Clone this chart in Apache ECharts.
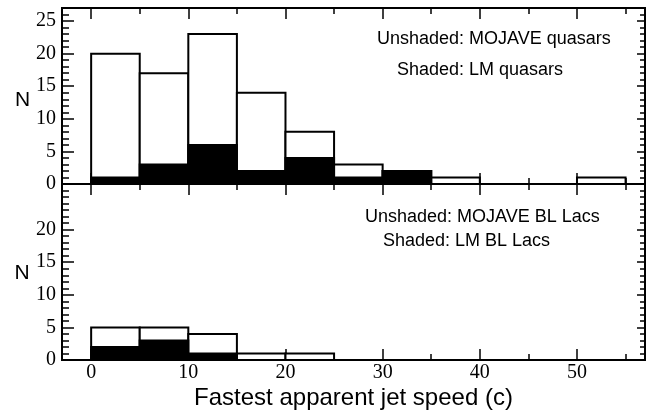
<!DOCTYPE html>
<html>
<head>
<meta charset="utf-8">
<script src="https://cdn.jsdelivr.net/npm/echarts@6/dist/echarts.min.js"></script>
<style>
  html, body { margin: 0; padding: 0; background: #fff; }
  #chart { width: 662px; height: 414px; }
</style>
</head>
<body>
<div id="chart"></div>
<script>
// histogram bins (c), width 5
const binStarts = [0, 5, 10, 15, 20, 25, 30, 35, 40, 45, 50];
const binWidth = 5;

// top panel: quasars
const quasarMojave = [20, 17, 23, 14, 8, 3, 2, 1, 0, 0, 1];
const quasarLM = [1, 3, 6, 2, 4, 1, 2, 0, 0, 0, 0];

// bottom panel: BL Lacs
const bllacMojave = [5, 5, 4, 1, 1, 0, 0, 0, 0, 0, 0];
const bllacLM = [2, 3, 1, 0, 0, 0, 0, 0, 0, 0, 0];

// ticks
const xMajor = [0, 10, 20, 30, 40, 50];
const xMinor = [5, 15, 25, 35, 45, 55];
const yMajorTop = [0, 5, 10, 15, 20, 25];
const yMajorBottom = [0, 5, 10, 15, 20];
const xMin = -3, xMax = 57;
const yMin = 0, yMax = 27;

const serif = 'Liberation Serif';
const sans = 'Liberation Sans';

function yMinorOf(major) {
    const out = [];
    for (let v = yMin; v <= yMax; v++) {
        if (major.indexOf(v) < 0) out.push(v);
    }
    return out;
}

function lineStyle() {
    return { color: '#000', width: 2 };
}

function xAxis(grid, pos, ticks, len, labels) {
    return {
        type: 'value', gridIndex: grid, position: pos, min: xMin, max: xMax,
        axisLine: { show: true, onZero: false, lineStyle: lineStyle() },
        axisTick: { show: true, inside: true, length: len, customValues: ticks, lineStyle: { color: '#000', width: 1.5 } },
        axisLabel: labels ? { show: true, customValues: labels, margin: 3, color: '#000', fontFamily: serif, fontSize: 20 } : { show: false },
        splitLine: { show: false }
    };
}

function yAxis(grid, pos, ticks, len, labels) {
    return {
        type: 'value', gridIndex: grid, position: pos, min: yMin, max: yMax,
        axisLine: { show: true, onZero: false, lineStyle: lineStyle() },
        axisTick: { show: true, inside: true, length: len, customValues: ticks, lineStyle: { color: '#000', width: 1.5 } },
        axisLabel: labels ? { show: true, customValues: labels, margin: 6, color: '#000', fontFamily: serif, fontSize: 20 } : { show: false },
        splitLine: { show: false }
    };
}

function binData(counts) {
    return binStarts.map(function (s, i) { return [s, s + binWidth, counts[i]]; });
}

function histSeries(xi, yi, counts, fill) {
    return {
        type: 'custom',
        xAxisIndex: xi,
        yAxisIndex: yi,
        encode: { x: [0, 1], y: 2 },
        data: binData(counts),
        renderItem: function (params, api) {
            const n = api.value(2);
            if (!n) return null;
            const p0 = api.coord([api.value(0), n]);
            const p1 = api.coord([api.value(1), 0]);
            return {
                type: 'rect',
                shape: { x: p0[0], y: p0[1], width: p1[0] - p0[0], height: p1[1] - p0[1] },
                style: { fill: fill, stroke: '#000', lineWidth: 2 }
            };
        }
    };
}

const chart = echarts.init(document.getElementById('chart'), null, { renderer: 'canvas' });
chart.setOption({
    backgroundColor: '#fff',
    animation: false,
    grid: [
        { left: 62, top: 8, width: 583, height: 176 },
        { left: 62, top: 184, width: 583, height: 176 }
    ],
    xAxis: [
        xAxis(0, 'bottom', xMajor, 11),      // 0
        xAxis(0, 'bottom', xMinor, 6),       // 1
        xAxis(0, 'top', xMajor, 11),         // 2
        xAxis(0, 'top', xMinor, 6),          // 3
        xAxis(1, 'bottom', xMajor, 11, xMajor), // 4
        xAxis(1, 'bottom', xMinor, 6),       // 5
        xAxis(1, 'top', xMajor, 11),         // 6
        xAxis(1, 'top', xMinor, 6)           // 7
    ],
    yAxis: [
        yAxis(0, 'left', yMajorTop, 12, yMajorTop),       // 0
        yAxis(0, 'left', yMinorOf(yMajorTop), 7),         // 1
        yAxis(0, 'right', yMajorTop, 8),                  // 2
        yAxis(0, 'right', yMinorOf(yMajorTop), 5),        // 3
        yAxis(1, 'left', yMajorBottom, 12, yMajorBottom), // 4
        yAxis(1, 'left', yMinorOf(yMajorBottom), 7),      // 5
        yAxis(1, 'right', yMajorBottom, 8),               // 6
        yAxis(1, 'right', yMinorOf(yMajorBottom), 5)      // 7
    ],
    series: [
        histSeries(0, 0, quasarMojave, '#fff'),
        histSeries(0, 0, quasarLM, '#000'),
        histSeries(4, 4, bllacMojave, '#fff'),
        histSeries(4, 4, bllacLM, '#000')
    ],
    graphic: [
        { type: 'text', x: 377, y: 39, style: { text: 'Unshaded: MOJAVE quasars', fill: '#000', font: '18px ' + sans, verticalAlign: 'middle' } },
        { type: 'text', x: 397, y: 70, style: { text: 'Shaded: LM quasars', fill: '#000', font: '18px ' + sans, verticalAlign: 'middle' } },
        { type: 'text', x: 365, y: 217, style: { text: 'Unshaded: MOJAVE BL Lacs', fill: '#000', font: '18px ' + sans, verticalAlign: 'middle' } },
        { type: 'text', x: 383, y: 241, style: { text: 'Shaded: LM BL Lacs', fill: '#000', font: '18px ' + sans, verticalAlign: 'middle' } },
        { type: 'text', x: 22.5, y: 100, style: { text: 'N', fill: '#000', font: '21px ' + sans, align: 'center', verticalAlign: 'middle' } },
        { type: 'text', x: 22, y: 273, style: { text: 'N', fill: '#000', font: '21px ' + sans, align: 'center', verticalAlign: 'middle' } },
        { type: 'text', x: 353.5, y: 398, style: { text: 'Fastest apparent jet speed (c)', fill: '#000', font: '24px ' + sans, align: 'center', verticalAlign: 'middle' } }
    ]
});
</script>
</body>
</html>
